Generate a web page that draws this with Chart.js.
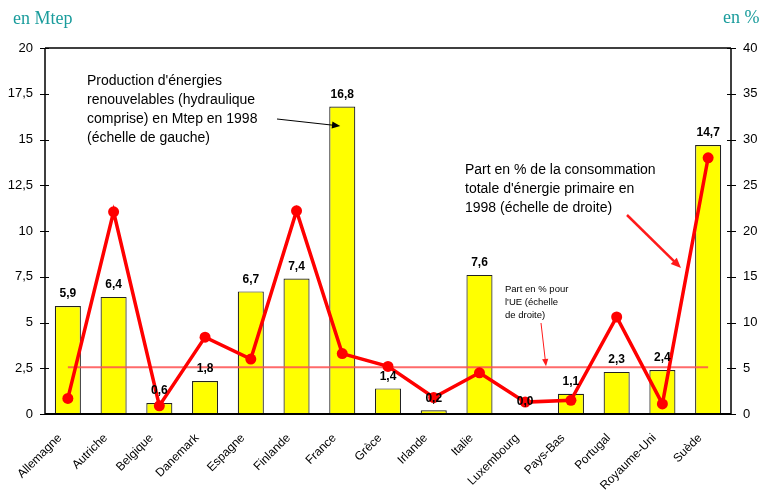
<!DOCTYPE html>
<html>
<head>
<meta charset="utf-8">
<script src="https://cdn.jsdelivr.net/npm/chart.js@4.4.1/dist/chart.umd.min.js"></script>
<style>
  html, body { margin: 0; padding: 0; background: #fff; }
  #wrap { width: 761px; height: 491px; position: relative; }
</style>
</head>
<body>
<div id="wrap"><canvas id="energie-chart" width="761" height="491"></canvas></div>
<script>
// --- DATA ---
const pays = ['Allemagne', 'Autriche', 'Belgique', 'Danemark', 'Espagne', 'Finlande', 'France', 'Grèce',
              'Irlande', 'Italie', 'Luxembourg', 'Pays-Bas', 'Portugal', 'Royaume-Uni', 'Suède'];
// production d'énergies renouvelables, Mtep (échelle de gauche)
const productionMtep = [5.9, 6.4, 0.6, 1.8, 6.7, 7.4, 16.8, 1.4, 0.2, 7.6, 0.0, 1.1, 2.3, 2.4, 14.7];
// part dans la consommation d'énergie primaire, % (échelle de droite)
const partPct = [1.7, 22.1, 0.9, 8.4, 6.0, 22.2, 6.6, 5.2, 1.8, 4.5, 1.3, 1.5, 10.6, 1.1, 28.0];
const partUE = 5.1;
const ticksGauche = [0, 2.5, 5, 7.5, 10, 12.5, 15, 17.5, 20];
const ticksDroite = [0, 5, 10, 15, 20, 25, 30, 35, 40];

const fmt = v => String(v).replace('.', ',');
const SANS = '"Liberation Sans", Arial, sans-serif';

// --- PLUGIN: cadre, graduations, valeurs, annotations ---
const decor = {
    id: 'decor',
    afterDatasetsDraw(chart) {
        const c = chart.ctx, a = chart.chartArea;
        const yL = chart.scales.y, yR = chart.scales.y1;
        c.save();

        // cadre
        c.strokeStyle = '#000';
        c.lineWidth = 1.5;
        c.beginPath();
        c.moveTo(a.left, a.top); c.lineTo(a.right, a.top);
        c.moveTo(a.left, a.top); c.lineTo(a.left, a.bottom);
        c.moveTo(a.right, a.top); c.lineTo(a.right, a.bottom);
        c.stroke();
        c.lineWidth = 2;
        c.beginPath();
        c.moveTo(a.left, a.bottom); c.lineTo(a.right, a.bottom);
        c.stroke();

        // graduations de part et d'autre des axes
        c.lineWidth = 1;
        c.beginPath();
        ticksGauche.forEach(v => {
            const y = Math.round(yL.getPixelForValue(v)) + 0.5;
            c.moveTo(a.left - 5, y); c.lineTo(a.left + 4, y);
        });
        ticksDroite.forEach(v => {
            const y = Math.round(yR.getPixelForValue(v)) + 0.5;
            c.moveTo(a.right - 4, y); c.lineTo(a.right + 5, y);
        });
        c.stroke();

        // valeurs au-dessus des barres
        const bars = chart.getDatasetMeta(2).data;
        c.fillStyle = '#000';
        c.font = 'bold 12px ' + SANS;
        c.textAlign = 'center';
        c.textBaseline = 'middle';
        bars.forEach((b, i) => {
            c.fillText(productionMtep[i].toFixed(1).replace('.', ','), b.x, b.y - 12);
        });

        // titres d'axes
        c.fillStyle = '#1a9c9c';
        c.font = '18px "Liberation Serif", "Times New Roman", serif';
        c.textAlign = 'left';
        c.fillText('en Mtep', 13, 19);
        c.fillText('en %', 723, 18);

        // annotations
        c.fillStyle = '#000';
        c.font = '14px ' + SANS;
        ['Production d\'énergies', 'renouvelables (hydraulique', 'comprise) en Mtep en 1998', '(échelle de gauche)']
            .forEach((t, i) => c.fillText(t, 87, 81 + i * 19));
        ['Part en % de la consommation', 'totale d\'énergie primaire en', '1998 (échelle de droite)']
            .forEach((t, i) => c.fillText(t, 465, 170 + i * 19));
        c.font = '9.5px ' + SANS;
        ['Part en % pour', 'l\'UE (échelle', 'de droite)']
            .forEach((t, i) => c.fillText(t, 505, 289 + i * 13));

        const arrow = (x1, y1, x2, y2, col, w, head) => {
            const ang = Math.atan2(y2 - y1, x2 - x1);
            c.strokeStyle = col; c.fillStyle = col; c.lineWidth = w;
            c.beginPath(); c.moveTo(x1, y1);
            c.lineTo(x2 - Math.cos(ang) * head * 0.8, y2 - Math.sin(ang) * head * 0.8); c.stroke();
            c.beginPath(); c.moveTo(x2, y2);
            c.lineTo(x2 - head * Math.cos(ang - 0.4), y2 - head * Math.sin(ang - 0.4));
            c.lineTo(x2 - head * Math.cos(ang + 0.4), y2 - head * Math.sin(ang + 0.4));
            c.closePath(); c.fill();
        };
        const xFrance = bars[6].x;
        arrow(277, 119, xFrance - 2, 126, '#000', 1, 9);
        arrow(627, 215, 681, 268, '#ff1a1a', 2.5, 11);
        arrow(541, 323, 546, yR.getPixelForValue(partUE) - 1, '#ff1a1a', 1, 8);

        c.restore();
    }
};

// --- CHART ---
const ctx = document.getElementById('energie-chart').getContext('2d');
new Chart(ctx, {
    data: {
        labels: pays,
        datasets: [
            {
                type: 'line', yAxisID: 'y1', order: 0, data: partPct,
                borderColor: '#ff0000', backgroundColor: '#ff0000', borderWidth: 3.5,
                pointRadius: 5.5, pointBorderWidth: 0, tension: 0
            },
            {
                type: 'line', yAxisID: 'y1', order: 1, data: pays.map(() => partUE),
                borderColor: 'rgba(255, 80, 80, 0.85)', borderWidth: 2, pointRadius: 0, tension: 0
            },
            {
                type: 'bar', yAxisID: 'y', order: 2, data: productionMtep,
                backgroundColor: '#ffff00', borderColor: '#222', borderWidth: 1.2,
                categoryPercentage: 1, barPercentage: 0.57
            }
        ]
    },
    options: {
        responsive: false, animation: false,
        layout: { padding: { top: 48, left: 0, right: 0, bottom: 0 } },
        plugins: { legend: { display: false }, tooltip: { enabled: false } },
        scales: {
            x: {
                grid: { display: false }, border: { display: false },
                ticks: { autoSkip: false, minRotation: 45, maxRotation: 45, padding: 9, labelOffset: -8,
                         color: '#000', font: { family: SANS, size: 12 } },
                afterFit: s => { s.height = 77; }
            },
            y: {
                position: 'left', min: 0, max: 20,
                grid: { display: false }, border: { display: false },
                ticks: { stepSize: 2.5, padding: 4, color: '#000', font: { family: SANS, size: 13 },
                         callback: v => fmt(v) },
                afterFit: s => { s.width = 45; }
            },
            y1: {
                position: 'right', min: 0, max: 40,
                grid: { display: false }, border: { display: false },
                ticks: { stepSize: 5, padding: 4, color: '#000', font: { family: SANS, size: 13 } },
                afterFit: s => { s.width = 30; }
            }
        }
    },
    plugins: [decor]
});
</script>
</body>
</html>
